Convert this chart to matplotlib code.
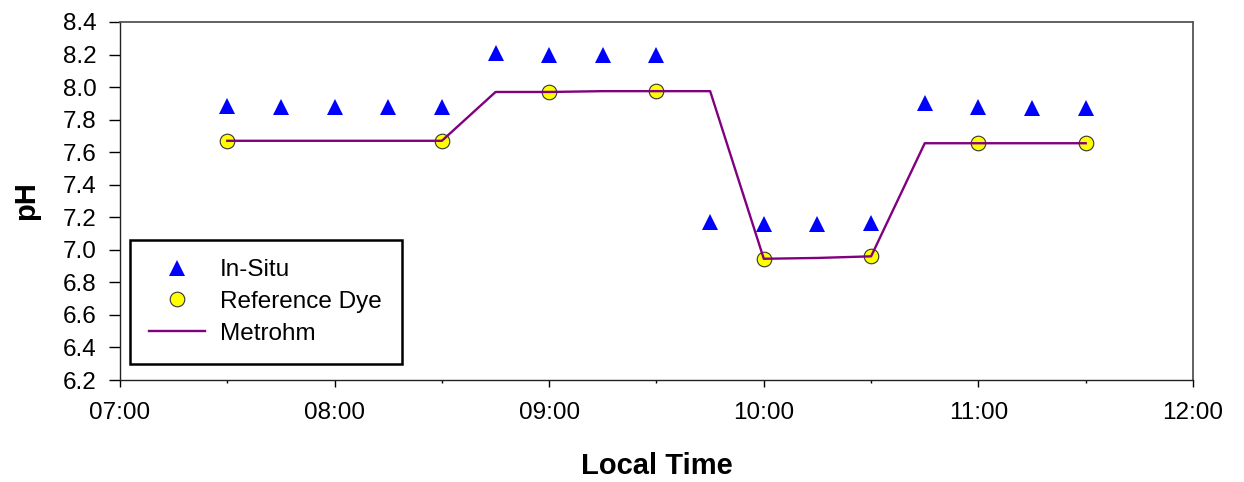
import matplotlib
matplotlib.use("Agg")
import matplotlib.pyplot as plt
import matplotlib.dates as mdates
from matplotlib.lines import Line2D
from matplotlib.ticker import FixedLocator, FormatStrFormatter
import pandas as pd

plt.rcParams['font.family'] = ['Liberation Sans', 'DejaVu Sans']

DAY = "2020-01-01 "

insitu_times = ["07:30", "07:45", "08:00", "08:15", "08:30", "08:45", "09:00", "09:15", "09:30",
                "09:45", "10:00", "10:15", "10:30", "10:45", "11:00", "11:15", "11:30"]
insitu_ph = [7.885, 7.88, 7.88, 7.88, 7.88, 8.21, 8.195, 8.195, 8.195,
             7.17, 7.16, 7.16, 7.165, 7.90, 7.875, 7.87, 7.87]

dye_times = ["07:30", "08:30", "09:00", "09:30", "10:00", "10:30", "11:00", "11:30"]
dye_ph = [7.67, 7.67, 7.97, 7.975, 6.945, 6.96, 7.655, 7.655]

metrohm_times = ["07:30", "08:30", "08:45", "09:00", "09:15", "09:30", "09:45",
                 "10:00", "10:15", "10:30", "10:45", "11:00", "11:30"]
metrohm_ph = [7.67, 7.67, 7.97, 7.97, 7.975, 7.975, 7.975,
              6.945, 6.95, 6.96, 7.655, 7.655, 7.655]

x_start, x_end = "07:00", "12:00"
y_ticks = [6.2, 6.4, 6.6, 6.8, 7.0, 7.2, 7.4, 7.6, 7.8, 8.0, 8.2, 8.4]

def to_dt(ts):
    return pd.to_datetime([DAY + t for t in ts])

fig = plt.figure(figsize=(12.44, 4.82), dpi=100)
ax = fig.add_axes([120/1244, 1 - 380/482, (1193-120)/1244, (380-22)/482])

ax.plot(to_dt(insitu_times), insitu_ph, linestyle='none', marker='^', markersize=11,
        color='#0000FF', markeredgewidth=0, zorder=3)
ax.plot(to_dt(dye_times), dye_ph, linestyle='none', marker='o', markersize=10.5,
        markerfacecolor='#FFFF00', markeredgecolor='#333333', markeredgewidth=0.8, zorder=3)
ax.plot(to_dt(metrohm_times), metrohm_ph, color='#800080', linewidth=1.7, zorder=4)

ax.set_xlim(to_dt([x_start])[0], to_dt([x_end])[0])
ax.set_ylim(y_ticks[0], y_ticks[-1])
ax.yaxis.set_major_locator(FixedLocator(y_ticks))
ax.yaxis.set_major_formatter(FormatStrFormatter('%.1f'))
ax.xaxis.set_major_locator(mdates.HourLocator())
ax.xaxis.set_minor_locator(mdates.MinuteLocator(byminute=[30]))
ax.xaxis.set_major_formatter(mdates.DateFormatter('%H:%M'))

ax.tick_params(axis='y', which='major', direction='out', length=7.8, width=1,
               labelsize=17.5, pad=9)
ax.tick_params(axis='x', which='major', direction='out', length=5, width=1,
               labelsize=17.5, pad=11)
ax.tick_params(axis='x', which='minor', direction='out', length=2.5, width=1)

for side in ['left', 'bottom']:
    ax.spines[side].set_color('#222222')
    ax.spines[side].set_linewidth(1.0)
for side in ['top', 'right']:
    ax.spines[side].set_color('#555555')
    ax.spines[side].set_linewidth(1.3)

ax.set_xlabel('Local Time', fontsize=21, fontweight='bold', va='center')
ax.xaxis.set_label_coords(0.5, -0.24)
ax.set_ylabel('pH', fontsize=21, fontweight='bold', va='center')
ax.yaxis.set_label_coords(-0.0876, 0.5)

handles = [
    Line2D([], [], linestyle='none', marker='^', markersize=11, color='#0000FF', markeredgewidth=0),
    Line2D([], [], linestyle='none', marker='o', markersize=10.5, markerfacecolor='#FFFF00',
           markeredgecolor='#333333', markeredgewidth=0.8),
    Line2D([], [], color='#800080', linewidth=1.7),
]
labels = ['In-Situ', 'Reference Dye', 'Metrohm']
leg = ax.legend(handles, labels, loc='lower left',
                bbox_to_anchor=(10/1073, 16/358, 272/1073, 126/358), mode='expand',
                borderaxespad=0, fontsize=17.5, frameon=True, fancybox=False,
                edgecolor='black', framealpha=1, handlelength=2.3, handletextpad=0.6,
                labelspacing=0.4, borderpad=0.8)
leg.get_frame().set_linewidth(1.8)

fig.savefig('out.png', dpi=100)
